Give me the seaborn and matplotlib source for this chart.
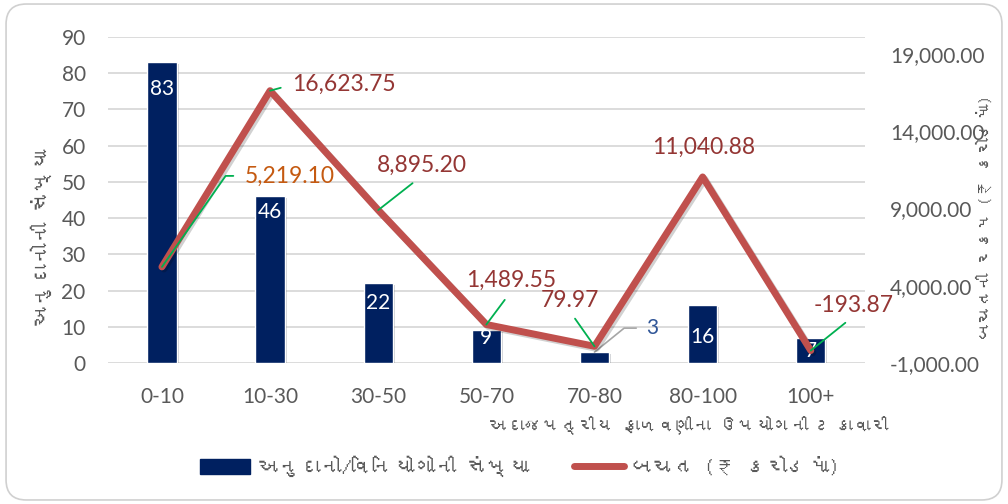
import numpy as np
import pandas as pd
import matplotlib
matplotlib.use("Agg")
import matplotlib.pyplot as plt
import matplotlib.patheffects as pe
from matplotlib import font_manager
from matplotlib.patches import FancyBboxPatch, Patch
from matplotlib.lines import Line2D
import seaborn as sns

# data
categories = ["0-10", "10-30", "30-50", "50-70", "70-80", "80-100", "100+"]
grant_counts = [83, 46, 22, 9, 3, 16, 7]
savings = [5219.10, 16623.75, 8895.20, 1489.55, 79.97, 11040.88, -193.87]

left_ticks = list(range(0, 91, 10))
right_ticks = [-1000, 4000, 9000, 14000, 19000]

x_title = "અદાજપત્રીય ફાળવણીના ઉપયોગની ટકાવારી"
left_title = "અનુદાનોની સંખ્યા"
right_title = "બચતની રકમ (₹ કરોડમાં)"
bar_name = "અનુદાનો/વિનિયોગોની સંખ્યા"
line_name = "બચત (₹ કરોડમાં)"

NAVY = "#002060"
RED = "#C0504D"
DARK_RED = "#943634"
GREEN = "#00B050"
GREY_TXT = "#595959"


def gujarati_font():
    # look for any installed font that has Gujarati glyphs
    try:
        from fontTools.ttLib import TTFont
    except ImportError:
        return None
    for entry in font_manager.fontManager.ttflist:
        try:
            cmap = TTFont(entry.fname, fontNumber=0, lazy=True).getBestCmap()
        except Exception:
            continue
        if cmap and 0x0A85 in cmap:
            return entry.name
    return None


sns.set_theme(style="white")
plt.rcParams["font.family"] = ["Lato", "DejaVu Sans"]
guj = gujarati_font()
guj_family = ([guj] if guj else []) + ["Noto Sans", "DejaVu Sans"]

df = pd.DataFrame({"range": categories, "count": grant_counts, "savings": savings})
df["pos"] = np.arange(len(df))

fig = plt.figure(figsize=(10.08, 5.04), dpi=100)
ax = fig.add_axes([0.107, 0.2798, 0.751, 0.6468])

sns.barplot(data=df, x="range", y="count", color=NAVY, width=0.27,
            saturation=1, ax=ax)
for bar in ax.patches:
    bar.set_path_effects([pe.SimplePatchShadow(offset=(1.5, -1.5), alpha=0.2),
                          pe.Normal()])
ax.set_ylim(0, 90)
ax.set_yticks(left_ticks)
ax.grid(axis="y", color="#D9D9D9", lw=1.3)
ax.set_axisbelow(True)
ax.set_xlabel("")
ax.set_ylabel("")
ax.tick_params(axis="x", length=0, pad=17, labelsize=15, labelcolor=GREY_TXT)
ax.tick_params(axis="y", length=0, pad=16, labelsize=15, labelcolor=GREY_TXT)
for s in ax.spines.values():
    s.set_visible(False)

# bar value labels (white, inside the top of the bar)
bar_label_drop = [27, 16, 20, 8, None, 32, 13]
for i, (c, drop) in enumerate(zip(grant_counts, bar_label_drop)):
    if drop is None:
        ax.annotate(str(c), xy=(i, c), xytext=(58, 24), textcoords="offset pixels",
                    ha="center", va="center", fontsize=15, color="#2F5597",
                    arrowprops=dict(arrowstyle="-", color="#A6A6A6", lw=1.2,
                                    relpos=(0, 0.5), shrinkA=5, shrinkB=0,
                                    connectionstyle="angle,angleA=0,angleB=39,rad=0"))
    else:
        ax.annotate(str(c), xy=(i, c), xytext=(0, -drop), textcoords="offset pixels",
                    ha="center", va="center", fontsize=15, color="white")

ax2 = ax.twinx()
sns.lineplot(data=df, x="pos", y="savings", color=RED, lw=5, ax=ax2)
ax2.lines[0].set_path_effects([
    pe.SimpleLineShadow(offset=(1.5, -1.5), alpha=0.18, shadow_color="black"),
    pe.Normal()])
ax2.set_ylim(-1000, 20100)
ax2.set_yticks(right_ticks)
ax2.set_yticklabels([f"{t:,.2f}" for t in right_ticks])
ax2.set_xlabel("")
ax2.set_ylabel("")
ax2.tick_params(axis="y", length=0, pad=18, labelsize=15, labelcolor=GREY_TXT)
for s in ax2.spines.values():
    s.set_visible(False)
ax.set_xlim(-0.5, len(categories) - 0.5)

# savings labels: (dx, dy, ha, relpos, connection, shrinkA, colour)
line_label_layout = [
    (83, 91, "left", (0, 0.5), "angle,angleA=0,angleB=55,rad=0", 6, "#C55A11"),
    (22, 6, "left", (0, 0.5), "arc3", 6, DARK_RED),
    (44, 45, "center", (0.5, 0), "arc3", 5, DARK_RED),
    (25, 44, "center", (0.5, 0), "arc3", 5, DARK_RED),
    (-25, 46, "center", (0.5, 0), "arc3", 4, DARK_RED),
    (1, 30, "center", None, None, 0, DARK_RED),
    (43, 45, "center", (0.5, 0), "arc3", 4, DARK_RED),
]
for i, (v, lay) in enumerate(zip(savings, line_label_layout)):
    dx, dy, ha, rel, conn, shr, col = lay
    arrow = None
    if rel is not None:
        arrow = dict(arrowstyle="-", color=GREEN, lw=1.3, relpos=rel,
                     shrinkA=shr, shrinkB=0, connectionstyle=conn)
    ax2.annotate(f"{v:,.2f}", xy=(i, v), xytext=(dx, dy), textcoords="offset pixels",
                 ha=ha, va="center", fontsize=16.5, color=col, arrowprops=arrow)

# axis titles
fig.text(888 / 1008, 1 - 426 / 504, x_title, ha="right", va="center",
         fontsize=12.8, color=GREY_TXT, family=guj_family)
fig.text(41 / 1008, 1 - 237 / 504, left_title, ha="center", va="center",
         rotation=90, fontsize=15, color=GREY_TXT, family=guj_family)
fig.text(985 / 1008, 1 - 218 / 504, right_title, ha="center", va="center",
         rotation=90, fontsize=12.2, color=GREY_TXT, family=guj_family)

handles = [Patch(color=NAVY, label=bar_name),
           Line2D([], [], color=RED, lw=5, label=line_name)]
fig.legend(handles=handles, loc="center", bbox_to_anchor=(520 / 1008, 1 - 466 / 504),
           ncol=2, frameon=False, handlelength=2.4, handletextpad=0.35,
           columnspacing=2.15, prop=dict(family=guj_family, size=15),
           labelcolor=GREY_TXT)

fig.patches.append(FancyBboxPatch((0.006, 0.008), 0.988, 0.984,
                                  boxstyle="round,pad=0,rounding_size=0.02",
                                  mutation_aspect=2, transform=fig.transFigure,
                                  fill=False, ec="#D0D0D0", lw=1.2))

fig.savefig("out.png", dpi=100)
